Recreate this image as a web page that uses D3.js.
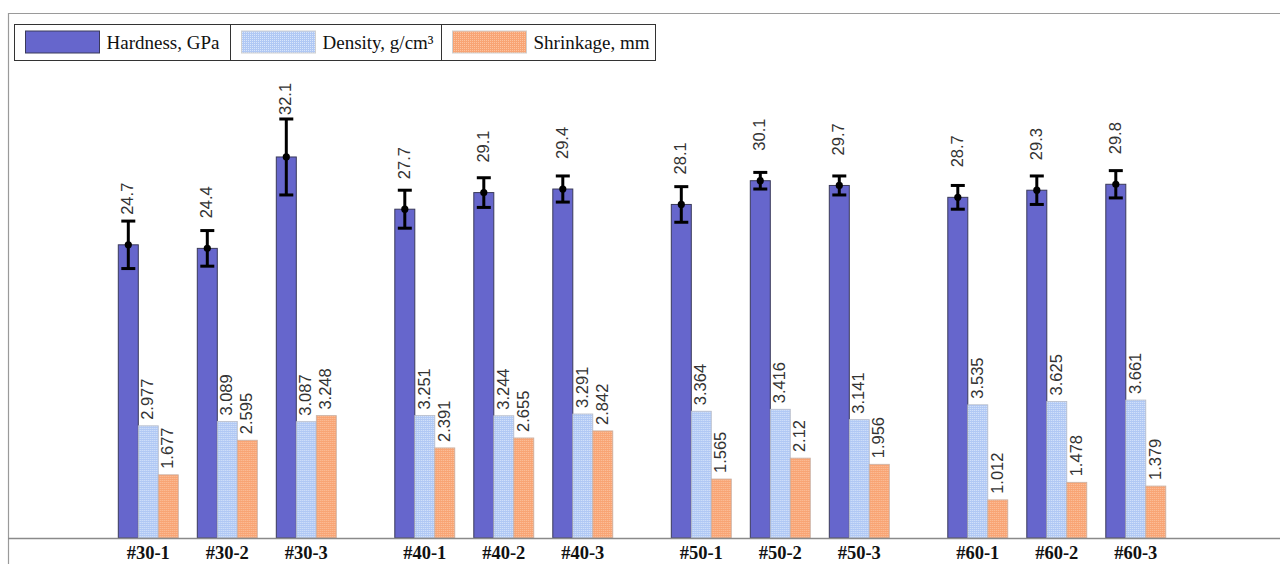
<!DOCTYPE html>
<html>
<head>
<meta charset="utf-8">
<script src="https://cdn.jsdelivr.net/npm/d3@7"></script>
<style>
  html, body { margin: 0; padding: 0; background: #fff; }
  svg { display: block; }
</style>
</head>
<body>
<svg id="chart" width="1280" height="564"></svg>
<script>
// Sample designations
const samples = ["#30-1", "#30-2", "#30-3", "#40-1", "#40-2", "#40-3",
                 "#50-1", "#50-2", "#50-3", "#60-1", "#60-2", "#60-3"];
// Hardness, GPa (mean) and its error half-width
const hardness    = [24.7, 24.4, 32.1, 27.7, 29.1, 29.4, 28.1, 30.1, 29.7, 28.7, 29.3, 29.8];
const hardnessErr = [2.0, 1.5, 3.2, 1.6, 1.25, 1.1, 1.5, 0.7, 0.8, 1.0, 1.2, 1.15];
// Density, g/cm3
const density     = [2.977, 3.089, 3.087, 3.251, 3.244, 3.291, 3.364, 3.416, 3.141, 3.535, 3.625, 3.661];
// Shrinkage, mm
const shrinkage   = [1.677, 2.595, 3.248, 2.391, 2.655, 2.842, 1.565, 2.12, 1.956, 1.012, 1.478, 1.379];
// Legend entries
const seriesNames = ["Hardness, GPa", "Density, g/cm³", "Shrinkage, mm"];

const W = 1280, H = 564;
const baseY = 538;
const plotTop = 63.2;
const svg = d3.select("#chart");

// Fine dotted fills for the density and shrinkage bars
const defs = svg.append("defs");
function dotted(id, base, light) {
  const p = defs.append("pattern").attr("id", id)
    .attr("patternUnits", "userSpaceOnUse").attr("width", 2).attr("height", 2);
  p.append("rect").attr("width", 2).attr("height", 2).attr("fill", base);
  p.append("rect").attr("x", 0).attr("y", 0).attr("width", 1).attr("height", 1).attr("fill", light);
}
dotted("densPat", "#b0c8f4", "#d9e6fb");
dotted("shrPat", "#f8a474", "#fcc3a0");

const fills = ["#6666cc", "url(#densPat)", "url(#shrPat)"];
const strokes = ["#3a3a5a", "#b8bcc8", "#c8b0a4"];

// Scales: groups of three samples separated by a half-slot gap
const slotOf = i => i + Math.floor(i / 3) * 0.5;
const x = d3.scaleLinear().domain([0, 12.5]).range([118.3, 1105.8]);
const inner = d3.scaleBand().domain([0, 1, 2]).range([0, 60]).padding(0);
const yH = d3.scaleLinear().domain([0, 40]).range([baseY, plotTop]);
const yD = d3.scaleLinear().domain([0, 12.6]).range([baseY, plotTop]);

// Frame
const frame = svg.append("g").attr("stroke", "#9a9a9a").attr("stroke-width", 1.2);
frame.append("line").attr("x1", 8).attr("x2", W).attr("y1", 13.5).attr("y2", 13.5);
frame.append("line").attr("x1", 8.5).attr("x2", 8.5).attr("y1", 13).attr("y2", H);

const data = samples.map((s, i) => ({
  s, i, h: hardness[i], e: hardnessErr[i], d: density[i], k: shrinkage[i]
}));

const groups = svg.append("g").selectAll("g").data(data).join("g")
  .attr("transform", d => `translate(${x(slotOf(d.i))},0)`);

const labelFont = "'Liberation Sans', Arial, sans-serif";

// Value labels for density and shrinkage (drawn beneath the bars)
[["d", 1], ["k", 2]].forEach(([key, k]) => {
  groups.append("text")
    .attr("transform", d => `translate(${inner(k) + inner.bandwidth() / 2},${yD(d[key]) - 6}) rotate(-90)`)
    .attr("dy", "0.3em")
    .attr("font-family", labelFont).attr("font-size", 16.5).attr("fill", "#333")
    .text(d => d[key]);
});

// Bars
groups.append("rect")
  .attr("x", inner(0)).attr("width", inner.bandwidth())
  .attr("y", d => yH(d.h)).attr("height", d => baseY - yH(d.h))
  .attr("fill", fills[0]).attr("stroke", strokes[0]).attr("stroke-width", 1);
groups.append("rect")
  .attr("x", inner(1)).attr("width", inner.bandwidth())
  .attr("y", d => yD(d.d)).attr("height", d => baseY - yD(d.d))
  .attr("fill", fills[1]).attr("stroke", strokes[1]).attr("stroke-width", 0.8);
groups.append("rect")
  .attr("x", inner(2)).attr("width", inner.bandwidth())
  .attr("y", d => yD(d.k)).attr("height", d => baseY - yD(d.k))
  .attr("fill", fills[2]).attr("stroke", strokes[2]).attr("stroke-width", 0.8);

// Error bars on hardness
const cx = inner(0) + inner.bandwidth() / 2;
const err = groups.append("g").attr("stroke", "#000").attr("stroke-width", 3);
err.append("line").attr("x1", cx).attr("x2", cx)
  .attr("y1", d => yH(d.h + d.e)).attr("y2", d => yH(d.h - d.e));
err.append("line").attr("x1", cx - 7).attr("x2", cx + 7)
  .attr("y1", d => yH(d.h + d.e)).attr("y2", d => yH(d.h + d.e));
err.append("line").attr("x1", cx - 7).attr("x2", cx + 7)
  .attr("y1", d => yH(d.h - d.e)).attr("y2", d => yH(d.h - d.e));
groups.append("circle").attr("cx", cx).attr("cy", d => yH(d.h)).attr("r", 3.6).attr("fill", "#000");

// Hardness value labels above the bars, clear of the error caps
groups.append("text")
  .attr("transform", d => {
    const yy = Math.min(yH(d.h) - 30, yH(d.h + d.e) - 4);
    return `translate(${cx},${yy}) rotate(-90)`;
  })
  .attr("dy", "0.3em")
  .attr("font-family", labelFont).attr("font-size", 16.5).attr("fill", "#333")
  .text(d => d.h);

// Baseline
svg.append("line").attr("x1", 8).attr("x2", W).attr("y1", baseY + 0.5).attr("y2", baseY + 0.5)
  .attr("stroke", "#8a8a8a").attr("stroke-width", 1.5);

// Category labels
groups.append("text")
  .attr("x", 30).attr("y", 559)
  .attr("text-anchor", "middle")
  .attr("font-family", "'Liberation Serif', 'Times New Roman', serif")
  .attr("font-weight", "bold").attr("font-size", 18.5).attr("fill", "#111")
  .text(d => d.s);

// Legend
const lg = svg.append("g");
lg.append("rect").attr("x", 14.5).attr("y", 24.5).attr("width", 641).attr("height", 36)
  .attr("fill", "#fff").attr("stroke", "#333").attr("stroke-width", 1);
const cellX = [14.5, 230.5, 441.5];
[230.5, 441.5].forEach(v => lg.append("line").attr("x1", v).attr("x2", v)
  .attr("y1", 24.5).attr("y2", 60.5).attr("stroke", "#333"));
seriesNames.forEach((name, k) => {
  lg.append("rect").attr("x", cellX[k] + 11).attr("y", 31).attr("width", 74).attr("height", 22)
    .attr("fill", fills[k]).attr("stroke", k === 0 ? "#3a3a5a" : "#d0d0d0").attr("stroke-width", 1);
  lg.append("text").attr("x", cellX[k] + 92).attr("y", 48.5)
    .attr("font-family", "'Liberation Serif', 'Times New Roman', serif")
    .attr("font-size", 19).attr("fill", "#111")
    .text(name);
});
</script>
</body>
</html>
